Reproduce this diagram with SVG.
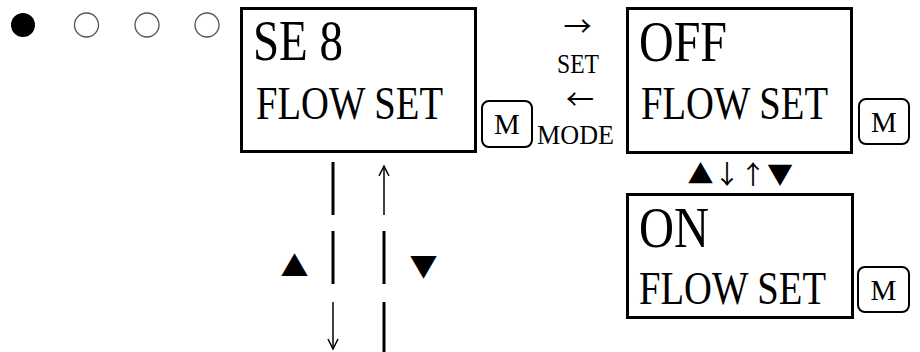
<svg xmlns="http://www.w3.org/2000/svg" width="920" height="352" viewBox="0 0 920 352">
<defs>
<style>
.box{fill:#fff;stroke:#000;stroke-width:3}
.btn{fill:#fff;stroke:#000;stroke-width:2}
text{font-family:'Liberation Serif','Times New Roman',serif;fill:#000}
.big{font-size:57px}
.mid{font-size:47px}
.sm{font-size:28px}
.m{font-size:29px;text-anchor:middle}
.sym{font-family:'Noto Sans CJK TC','Noto Sans CJK SC',sans-serif;text-anchor:middle}
.seg{stroke:#000;stroke-width:3}
.arr{stroke:#000;stroke-width:1.5;fill:none}
.dot{fill:#fff;stroke:#555;stroke-width:1.3}
</style>
<marker id="oh" viewBox="0 0 12 12" refX="11" refY="6" markerWidth="12" markerHeight="12" markerUnits="userSpaceOnUse" orient="auto">
<path d="M1,1 L11,6 L1,11" fill="none" stroke="#000" stroke-width="1.5"/>
</marker>
</defs>
<rect width="920" height="352" fill="#fff"/>
<g id="indicators">
<circle cx="23" cy="25" r="12" fill="#000"/>
<circle class="dot" cx="86.5" cy="25" r="12"/>
<circle class="dot" cx="147" cy="25" r="12"/>
<circle class="dot" cx="207" cy="25" r="12"/>
</g>
<g id="node-se8">
<rect class="box" x="241.5" y="8.5" width="234" height="143"/>
<text class="big" x="253" y="60" textLength="90" lengthAdjust="spacingAndGlyphs">SE 8</text>
<text class="mid" x="256" y="119" textLength="187" lengthAdjust="spacingAndGlyphs">FLOW SET</text>
</g>
<g id="btn-1">
<rect class="btn" x="482" y="101" width="50" height="46" rx="7"/>
<text class="m" x="507" y="134">M</text>
</g>
<g id="node-off">
<rect class="box" x="627.5" y="8.5" width="224" height="144"/>
<text class="big" x="639" y="61" textLength="88" lengthAdjust="spacingAndGlyphs">OFF</text>
<text class="mid" x="641" y="119" textLength="187" lengthAdjust="spacingAndGlyphs">FLOW SET</text>
</g>
<g id="btn-2">
<rect class="btn" x="859" y="99" width="50" height="45" rx="7"/>
<text class="m" x="884" y="132">M</text>
</g>
<g id="node-on">
<rect class="box" x="627.5" y="194.5" width="225" height="123"/>
<text class="big" x="639" y="247" textLength="70" lengthAdjust="spacingAndGlyphs">ON</text>
<text class="mid" x="639" y="304" textLength="187" lengthAdjust="spacingAndGlyphs">FLOW SET</text>
</g>
<g id="btn-3">
<rect class="btn" x="858" y="267" width="51" height="45" rx="7"/>
<text class="m" x="883.5" y="300">M</text>
</g>
<g id="labels">
<text class="sym" x="577.5" y="37" font-size="28">→</text>
<text class="sm" x="557" y="73" textLength="42" lengthAdjust="spacingAndGlyphs">SET</text>
<text class="sym" x="580" y="110" font-size="28">←</text>
<text class="sm" x="537" y="144" textLength="77" lengthAdjust="spacingAndGlyphs">MODE</text>
<text class="sym" x="700.5 727 740 753 780" y="184" font-size="26">▲↓ ↑▼</text>
<text class="sym" x="294.5" y="277" font-size="28">▲</text>
<text class="sym" x="423.5" y="277" font-size="28">▼</text>
</g>
<g id="connectors">
<line class="seg" x1="333" y1="162" x2="333" y2="215"/>
<line class="seg" x1="333" y1="231" x2="333" y2="284"/>
<line class="arr" x1="333" y1="302" x2="333" y2="349" marker-end="url(#oh)"/>
<line class="arr" x1="384" y1="215" x2="384" y2="166" marker-end="url(#oh)"/>
<line class="seg" x1="384" y1="231" x2="384" y2="284"/>
<line class="seg" x1="384" y1="302" x2="384" y2="352"/>
</g>
</svg>
